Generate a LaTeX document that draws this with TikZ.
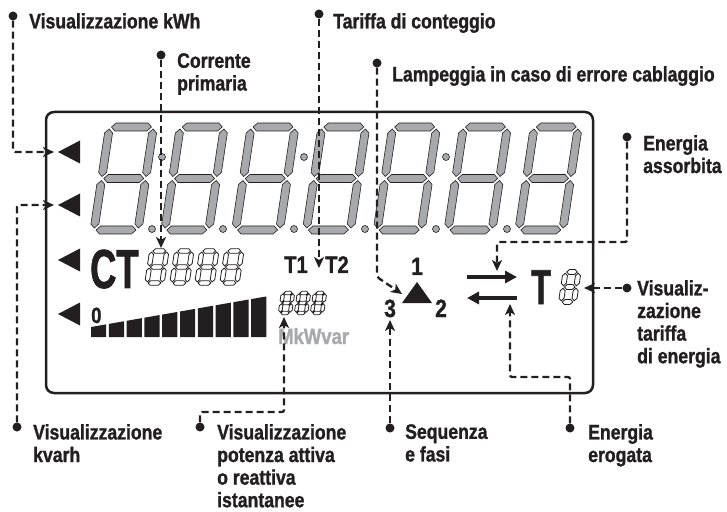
\documentclass[tikz,border=0pt]{standalone}
\usepackage{fontspec}
\usepackage{tikz}
\usetikzlibrary{arrows.meta,positioning,shapes.geometric}
\newfontfamily\lblfont{Liberation Sans}[FakeStretch=0.84,BoldFeatures={FakeBold=1.2}]
\newfontfamily\narrowfont{Liberation Sans}[FakeStretch=0.66,BoldFeatures={FakeBold=1.2}]
\definecolor{lcdgray}{RGB}{167,169,172}
\definecolor{inkblack}{RGB}{35,31,32}
\newcommand{\setfs}[1]{\fontsize{#1bp}{#1bp}\selectfont}
% hexagonal segments: horizontal (x1,x2,y,t) and vertical (y1,y2,x,t)
\newcommand{\segH}[4]{(#1,#3) -- ({#1+#4/2},{#3-#4/2}) -- ({#2-#4/2},{#3-#4/2}) -- (#2,#3) -- ({#2-#4/2},{#3+#4/2}) -- ({#1+#4/2},{#3+#4/2}) -- cycle}
\newcommand{\segV}[4]{(#3,#1) -- ({#3+#4/2},{#1+#4/2}) -- ({#3+#4/2},{#2-#4/2}) -- (#3,#2) -- ({#3-#4/2},{#2-#4/2}) -- ({#3-#4/2},{#1+#4/2}) -- cycle}
% seven segment digit: x0, y0 (bottom left), width, height, thickness, style
\newcommand{\sevenseg}[6]{%
  \begin{scope}[shift={({#1},{#2})},xslant=0.15]
    \path[#6] \segH{#5/4}{#3-#5/4}{-#4}{#5} \segH{#5/4}{#3-#5/4}{-#4/2}{#5} \segH{#5/4}{#3-#5/4}{0}{#5}
      \segV{-#4+#5/4}{-#4/2-#5/4}{0}{#5} \segV{-#4+#5/4}{-#4/2-#5/4}{#3}{#5}
      \segV{-#4/2+#5/4}{-#5/4}{0}{#5} \segV{-#4/2+#5/4}{-#5/4}{#3}{#5};
  \end{scope}}
\tikzset{
  % LABELS
  frameLabel/.style={
    inner sep=0, anchor=north west, align=left,
    font=\lblfont\bfseries\fontsize{21bp}{22.6bp}\selectfont,
    text=inkblack
  },
  % PINS AT THE LABELS
  pinDot/.style={
    circle, fill=inkblack, inner sep=0, minimum size=9bp
  },
  % LCD TEXT
  lcdText/.style={
    inner sep=0, anchor=base west, text=inkblack
  },
  % DIGITS
  digitBig/.style={fill=lcdgray, draw=inkblack, line width=0.6bp},
  digitSmall/.style={fill=white, draw=inkblack, line width=0.8bp},
  % LINES
  lcdFrame/.style={draw=inkblack, line width=2.5bp, rounded corners=8bp},
  flowArrow/.style={draw=inkblack, line width=3.5bp, -{Triangle[length=12bp,width=12bp]}},
  lineInfo/.style={
    draw=inkblack, line width=2.3bp, dash pattern=on 7bp off 4bp,
    rounded corners=2bp, -{Stealth[length=11bp,width=10bp,inset=3bp]}
  }
}

\begin{document}
\begin{tikzpicture}[x=1bp,y=-1bp]
\useasboundingbox (0,0) rectangle (727,512);

% LCD frame
\draw[lcdFrame] (46,112) rectangle (593,393);

% Big digits and dots
\foreach \k in {0,...,6} {\sevenseg{94+70.8*\k}{230}{44}{103}{8}{digitBig}}
\foreach \k in {0,...,5} {\filldraw[fill=lcdgray, draw=inkblack, line width=0.6bp] ({152+71*\k},229) circle (3.5bp);}
\foreach \x in {162,304,446} {\filldraw[fill=lcdgray, draw=inkblack, line width=0.6bp] (\x,157) circle (3.5bp);}

% Left markers
\foreach \y in {152,205,260,314} {\fill[inkblack] (58,\y) -- (80,{\y-11.5}) -- (80,{\y+11.5}) -- cycle;}

% CT row
\node[lcdText, font=\narrowfont\bfseries\setfs{55}] (ct) at (90,288) {CT};
\foreach \k in {0,...,3} {\sevenseg{147+25*\k}{283}{15}{32}{4.5}{digitSmall}}
\node[lcdText, font=\lblfont\bfseries\setfs{24}] (t_one) at (284,273) {T1};
\node[lcdText, font=\lblfont\bfseries\setfs{24}] (t_two) at (325,273) {T2};

% Bar graph row
\node[lcdText, font=\lblfont\bfseries\setfs{22}] (zero) at (91,323) {0};
\foreach \k in {0,...,9} {\fill[inkblack] ({91+17.8*\k},337) -- ({91+17.8*\k},{327-3.1*\k}) -- ({106.2+17.8*\k},{327-3.1*\k-2.65}) -- ({106.2+17.8*\k},337) -- cycle;}
\foreach \k in {0,...,2} {\sevenseg{280+16*\k}{313}{10}{20}{3.5}{digitSmall}}
\node[lcdText, text=lcdgray, font=\lblfont\bfseries\setfs{22}] (unit) at (278,344) {MkWvar};

% Phase sequence
\fill[inkblack] (402,303) -- (432,303) -- (417,282) -- cycle;
\node[lcdText, font=\lblfont\bfseries\setfs{25}] (ph_one) at (411,275) {1};
\node[lcdText, font=\lblfont\bfseries\setfs{25}] (ph_three) at (384,317) {3};
\node[lcdText, font=\lblfont\bfseries\setfs{25}] (ph_two) at (435,317) {2};

% Energy direction and tariff
\draw[flowArrow] (467,277) -- (517,277);
\draw[flowArrow] (517,298) -- (467,298);
\node[lcdText, font=\narrowfont\bfseries\setfs{49}] (tletter) at (531,304) {T};
\sevenseg{561}{302}{13}{30}{5}{digitSmall}

% Pins
\node[pinDot] (pin_kwh) at (13,16) {};
\node[pinDot] (pin_ct) at (161,55) {};
\node[pinDot] (pin_tar) at (319,14) {};
\node[pinDot] (pin_err) at (377,63) {};
\node[pinDot] (pin_abs) at (627,137) {};
\node[pinDot] (pin_ten) at (627,288) {};
\node[pinDot] (pin_kvarh) at (17,427) {};
\node[pinDot] (pin_pow) at (200,427) {};
\node[pinDot] (pin_seq) at (390,428) {};
\node[pinDot] (pin_ero) at (570,428) {};

% Labels
\node[frameLabel] (lab_kwh) at (29,13) {Visualizzazione kWh};
\node[frameLabel] (lab_ct) at (177,53) {Corrente\\primaria};
\node[frameLabel] (lab_tar) at (333,13) {Tariffa di conteggio};
\node[frameLabel] (lab_err) at (392,66) {Lampeggia in caso di errore cablaggio};
\node[frameLabel] (lab_abs) at (643,135) {Energia\\assorbita};
\node[frameLabel] (lab_ten) at (637,280) {Visualiz-\\zazione\\tariffa\\di energia};
\node[frameLabel] (lab_kvarh) at (33,424) {Visualizzazione\\kvarh};
\node[frameLabel] (lab_pow) at (217,424) {Visualizzazione\\potenza attiva\\o reattiva\\istantanee};
\node[frameLabel] (lab_seq) at (405,424) {Sequenza\\e fasi};
\node[frameLabel] (lab_ero) at (588,424) {Energia\\erogata};

% Targets and bends
\coordinate (tip_kwh) at (54,152);
\coordinate (tip_kvarh) at (54,205);
\coordinate (tip_ct) at (161,248);
\coordinate (tip_tar) at (319,268);
\coordinate (bend_err) at (377,277);
\coordinate (tip_err) at (402,294);
\coordinate (bend_abs) at (627,242);
\coordinate (tip_abs) at (497,271);
\coordinate (tip_ten) at (584,288);
\coordinate (bend_ero) at (570,377);
\coordinate (tip_ero) at (510,304);
\coordinate (tip_seq) at (390,320);
\coordinate (bend_pow) at (200,412);
\coordinate (tip_pow) at (284,317);

% Leader lines
\path[lineInfo] (pin_kwh) |- (tip_kwh);
\path[lineInfo] (pin_kvarh) |- (tip_kvarh);
\path[lineInfo] (pin_ct) -- (tip_ct);
\path[lineInfo] (pin_tar) -- (tip_tar);
\path[lineInfo] (pin_err) -- (bend_err) -- (tip_err);
\path[lineInfo] (pin_abs) -- (bend_abs) -| (tip_abs);
\path[lineInfo] (pin_ten) -- (tip_ten);
\path[lineInfo] (pin_ero) -- (bend_ero) -| (tip_ero);
\path[lineInfo] (pin_seq) -- (tip_seq);
\path[lineInfo] (pin_pow) -- (bend_pow) -| (tip_pow);

\end{tikzpicture}
\end{document}
